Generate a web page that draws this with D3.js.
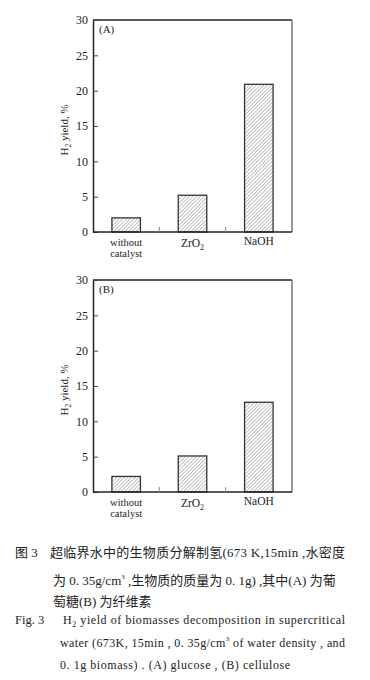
<!DOCTYPE html>
<html>
<head>
<meta charset="utf-8">
<script src="https://cdn.jsdelivr.net/npm/d3@7"></script>
<style>
  body { margin: 0; background: #fff; }
  svg text { font-family: "Liberation Serif", "Times New Roman", serif; fill: #222; }
  svg text.cap { font-family: "Liberation Serif", "Noto Sans CJK SC", serif; }
</style>
</head>
<body>
<div id="chart"></div>
<script>
// Catalyst categories and H2 yields (%)
const categories = ['without catalyst', 'ZrO2', 'NaOH'];
const glucoseYield = [2.0, 5.2, 20.9];
const celluloseYield = [2.2, 5.1, 12.7];
const yTicks = [0, 5, 10, 15, 20, 25, 30];

const W = 370, H = 680;
const margin = {left: 93, right: 78};
const plotW = W - margin.left - margin.right;
const plotH = 212;

const svg = d3.select('#chart').append('svg')
  .attr('width', W)
  .attr('height', H);

// hatch fill for bars
const defs = svg.append('defs');
defs.append('pattern')
  .attr('id', 'hatch')
  .attr('patternUnits', 'userSpaceOnUse')
  .attr('width', 2.6)
  .attr('height', 2.6)
  .attr('patternTransform', 'rotate(45)')
  .append('line')
  .attr('x1', 0).attr('y1', 0)
  .attr('x2', 0).attr('y2', 2.6)
  .attr('stroke', '#777')
  .attr('stroke-width', 0.9);

const x = d3.scaleBand()
  .domain(categories)
  .range([0, plotW])
  .padding(0);

const y = d3.scaleLinear()
  .domain([0, 30])
  .range([plotH, 0]);

const barW = x.bandwidth() * 0.43;

function drawPanel (top, values, tag) {
  const g = svg.append('g')
    .attr('transform', 'translate(' + margin.left + ',' + top + ')');

  // frame: top and right
  g.append('line')
    .attr('x1', 0).attr('x2', plotW)
    .attr('y1', 0).attr('y2', 0)
    .attr('stroke', '#222').attr('stroke-width', 1.5);
  g.append('line')
    .attr('x1', plotW).attr('x2', plotW)
    .attr('y1', 0).attr('y2', plotH)
    .attr('stroke', '#777').attr('stroke-width', 1.5);

  // bars
  g.selectAll('.bar')
    .data(values)
    .enter().append('rect')
    .attr('class', 'bar')
    .attr('x', (d, i) => x(categories[i]) + (x.bandwidth() - barW) / 2)
    .attr('width', barW)
    .attr('y', d => y(d))
    .attr('height', d => plotH - y(d))
    .attr('fill', 'url(#hatch)')
    .attr('stroke', '#333')
    .attr('stroke-width', 1.3);

  // y axis, ticks pointing inward
  const yAxis = g.append('g')
    .call(d3.axisLeft(y).tickValues(yTicks).tickSizeInner(-5).tickSizeOuter(0).tickPadding(5));
  yAxis.select('.domain').attr('stroke', '#222').attr('stroke-width', 1.5);
  yAxis.selectAll('.tick line').attr('stroke', '#444');
  yAxis.selectAll('.tick text')
    .style('font-family', '"Liberation Serif", serif')
    .style('font-size', '12px')
    .attr('fill', '#222');

  // x baseline
  g.append('line')
    .attr('x1', 0).attr('x2', plotW)
    .attr('y1', plotH).attr('y2', plotH)
    .attr('stroke', '#222').attr('stroke-width', 1.5);

  // category separators pointing up
  g.selectAll('.sep')
    .data(categories.slice(1))
    .enter().append('line')
    .attr('class', 'sep')
    .attr('x1', d => x(d)).attr('x2', d => x(d))
    .attr('y1', plotH).attr('y2', plotH - 5)
    .attr('stroke', '#888').attr('stroke-width', 1);

  // category labels
  const cx = d => x(d) + x.bandwidth() / 2;
  g.append('text')
    .attr('x', cx(categories[0]))
    .attr('y', plotH + 14)
    .attr('text-anchor', 'middle')
    .style('font-size', '10.5px')
    .text('without');
  g.append('text')
    .attr('x', cx(categories[0]))
    .attr('y', plotH + 25)
    .attr('text-anchor', 'middle')
    .style('font-size', '10.5px')
    .text('catalyst');

  const lab1 = g.append('text')
    .attr('x', cx(categories[1]))
    .attr('y', plotH + 15)
    .attr('text-anchor', 'middle')
    .style('font-size', '11.5px');
  lab1.append('tspan').text('ZrO');
  lab1.append('tspan').attr('dy', 3).style('font-size', '8px').text('2');

  g.append('text')
    .attr('x', cx(categories[2]))
    .attr('y', plotH + 13)
    .attr('text-anchor', 'middle')
    .style('font-size', '11.5px')
    .text('NaOH');

  // panel tag
  g.append('text')
    .attr('x', 6)
    .attr('y', 13)
    .style('font-size', '11px')
    .text(tag);

  // y axis title
  const yt = g.append('text')
    .attr('transform', 'translate(-25,' + (plotH / 2 + 4) + ') rotate(-90)')
    .attr('text-anchor', 'middle')
    .style('font-size', '11px');
  yt.append('tspan').text('H');
  yt.append('tspan').attr('dy', 3).style('font-size', '7.5px').text('2');
  yt.append('tspan').attr('dy', -3).text(' yield, %');
}

drawPanel(20, glucoseYield, '(A)');
drawPanel(280, celluloseYield, '(B)');

// captions
const cn = svg.append('g');
cn.append('text').attr('class', 'cap').attr('x', 15).attr('y', 557)
  .style('font-size', '13px').attr('fill', '#333')
  .text('图 3');
cn.append('text').attr('class', 'cap').attr('x', 50).attr('y', 557)
  .attr('textLength', 295).attr('lengthAdjust', 'spacing')
  .style('font-size', '13px').attr('fill', '#333')
  .text('超临界水中的生物质分解制氢(673 K,15min ,水密度');
const cn2 = cn.append('text').attr('class', 'cap').attr('x', 53).attr('y', 585)
  .style('font-size', '13px').attr('fill', '#333');
cn2.append('tspan').text('为 0. 35g/cm');
cn2.append('tspan').attr('dy', -6).style('font-size', '7px').text('3');
cn2.append('tspan').attr('dy', 6).text(' ,生物质的质量为 0. 1g) ,其中(A) 为葡');
cn.append('text').attr('class', 'cap').attr('x', 53).attr('y', 606)
  .style('font-size', '13px').attr('fill', '#333')
  .text('萄糖(B) 为纤维素');

const en = svg.append('g');
en.append('text').attr('x', 15).attr('y', 624)
  .style('font-size', '12.5px').attr('fill', '#333')
  .text('Fig. 3');
const e1 = en.append('text').attr('x', 63).attr('y', 624)
  .attr('textLength', 282).attr('lengthAdjust', 'spacing')
  .style('font-size', '12px').attr('fill', '#333');
e1.append('tspan').text('H');
e1.append('tspan').attr('dy', 3).style('font-size', '8px').text('2');
e1.append('tspan').attr('dy', -3).text(' yield of biomasses decomposition in supercritical');
const e2 = en.append('text').attr('x', 60).attr('y', 647)
  .attr('textLength', 285).attr('lengthAdjust', 'spacing')
  .style('font-size', '12px').attr('fill', '#333');
e2.append('tspan').text('water (673K, 15min , 0. 35g/cm');
e2.append('tspan').attr('dy', -6).style('font-size', '7px').text('3');
e2.append('tspan').attr('dy', 6).text(' of water density , and');
en.append('text').attr('x', 60).attr('y', 669)
  .attr('textLength', 230).attr('lengthAdjust', 'spacing')
  .style('font-size', '12px').attr('fill', '#333')
  .text('0. 1g biomass) .  (A)  glucose ,  (B)  cellulose');
</script>
</body>
</html>
